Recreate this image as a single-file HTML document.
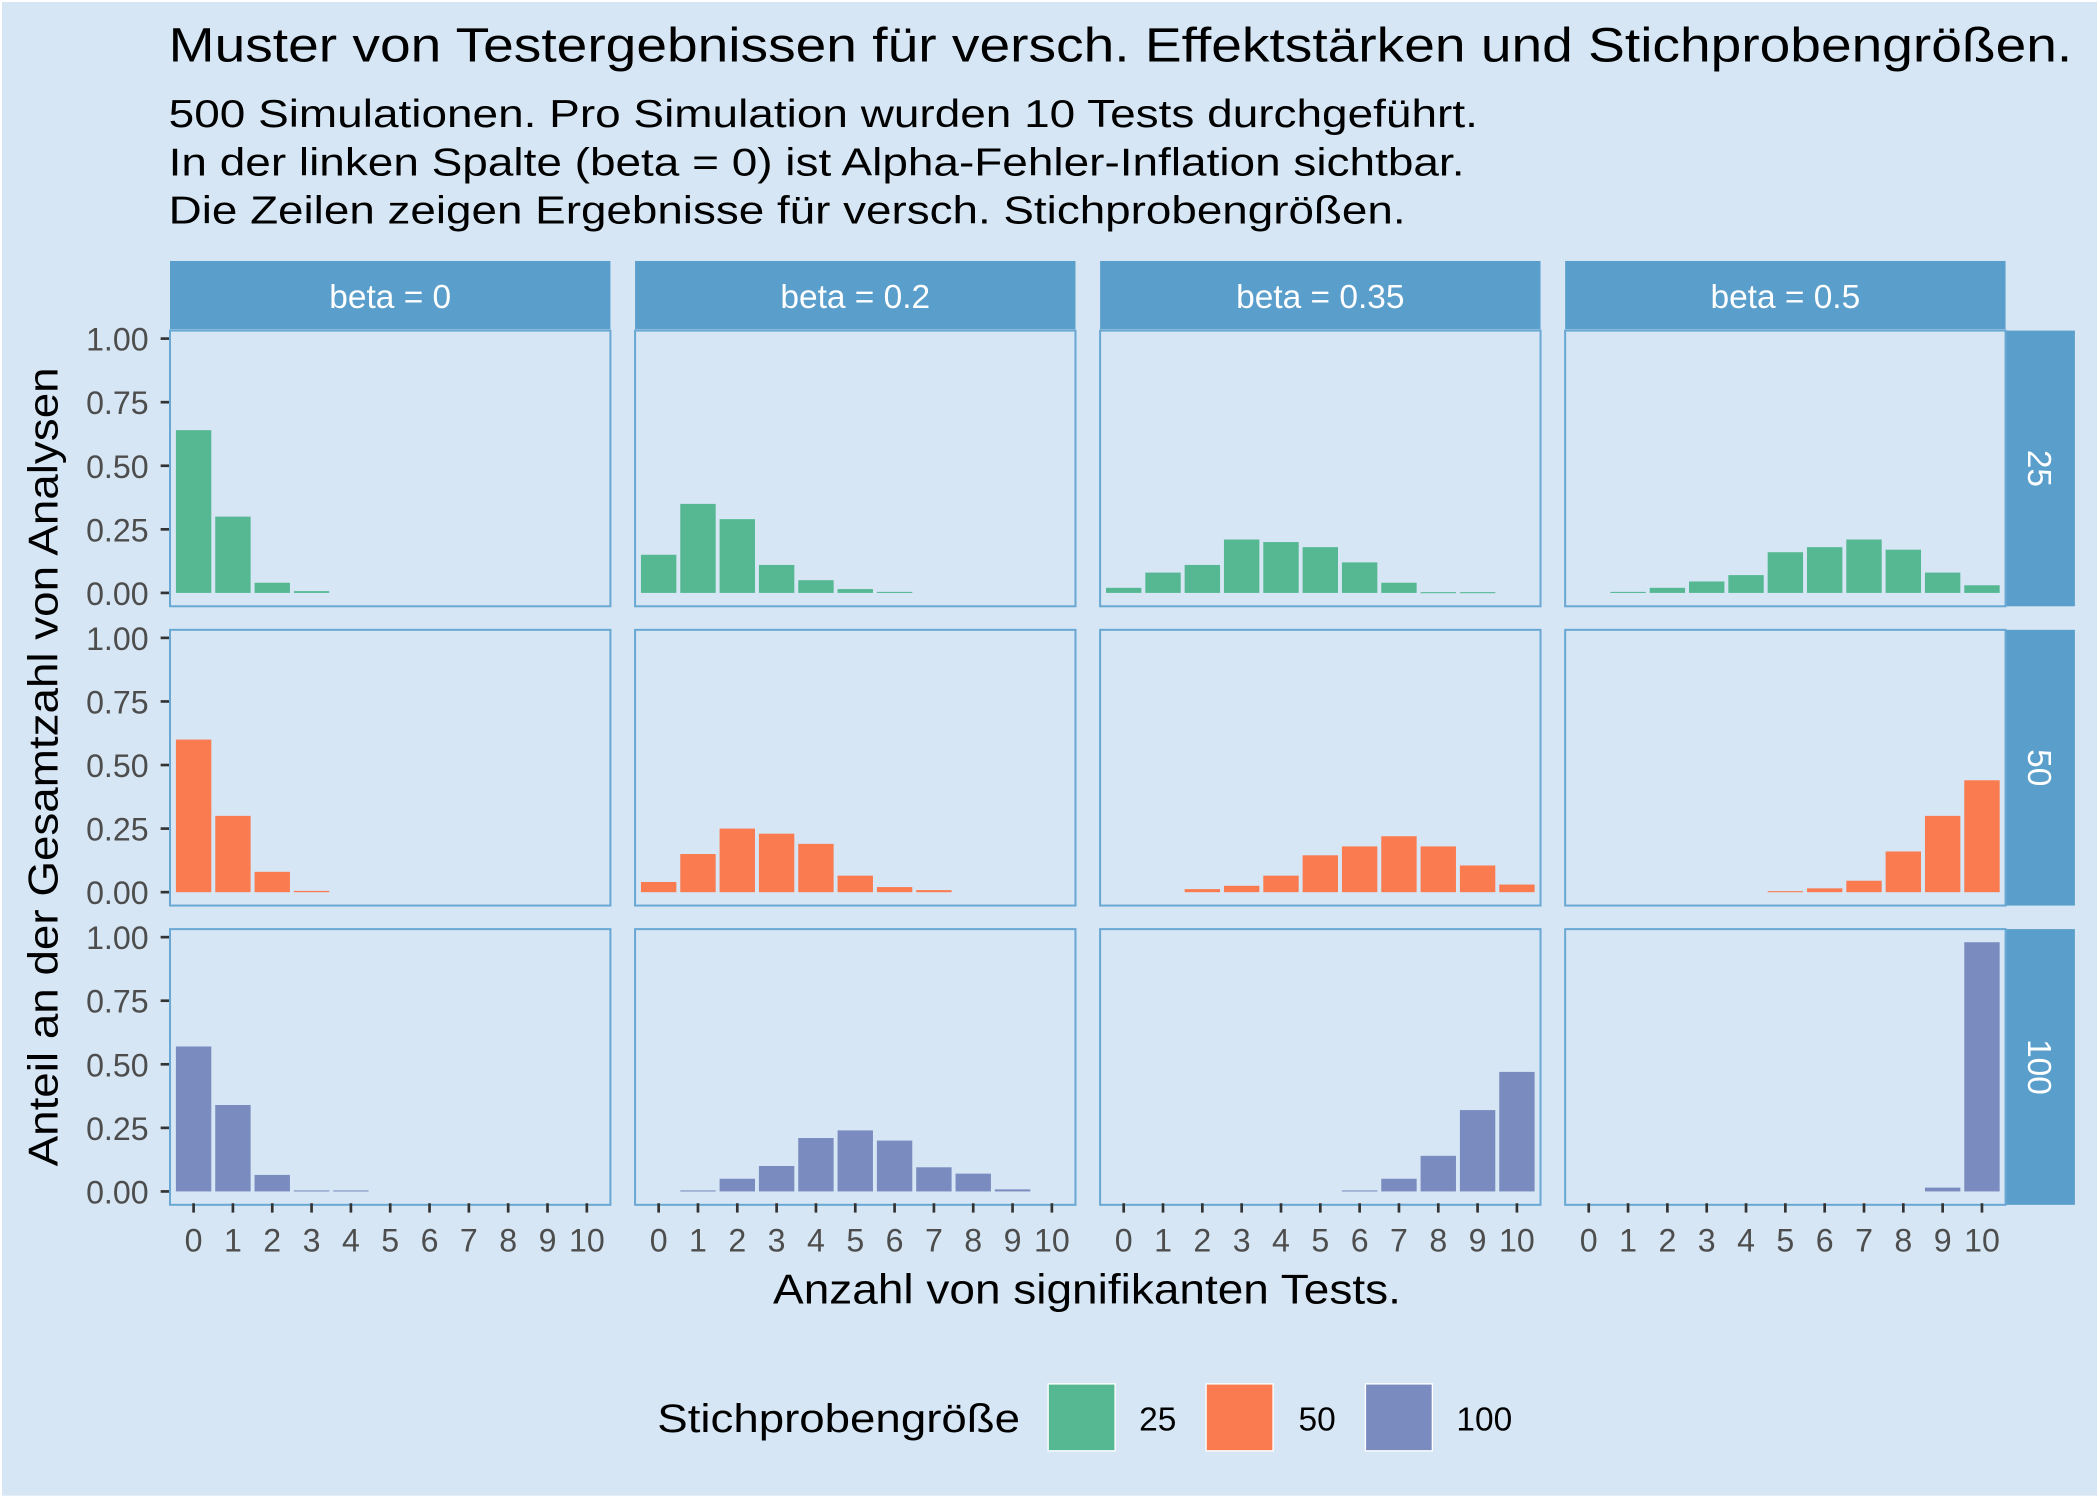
<!DOCTYPE html>
<html><head><meta charset="utf-8"><style>
html,body{margin:0;padding:0;background:#fff;}
svg{display:block;}
text{font-family:"Liberation Sans",sans-serif;}
</style></head><body>
<svg id="chart" width="2099" height="1499" viewBox="0 0 1568 1120" preserveAspectRatio="none" xmlns="http://www.w3.org/2000/svg">
<rect x="1.5" y="1.5" width="1565" height="1116" fill="#D6E6F4"/>
<text x="126" y="46" font-size="36" textLength="1422" lengthAdjust="spacingAndGlyphs" fill="#000">Muster von Testergebnissen für versch. Effektstärken und Stichprobengrößen.</text>
<text x="126" y="95" font-size="29" textLength="978" lengthAdjust="spacingAndGlyphs" fill="#000">500 Simulationen. Pro Simulation wurden 10 Tests durchgeführt.</text>
<text x="126" y="131" font-size="29" textLength="968" lengthAdjust="spacingAndGlyphs" fill="#000">In der linken Spalte (beta = 0) ist Alpha-Fehler-Inflation sichtbar.</text>
<text x="126" y="167" font-size="29" textLength="924" lengthAdjust="spacingAndGlyphs" fill="#000">Die Zeilen zeigen Ergebnisse für versch. Stichprobengrößen.</text>
<text transform="translate(43,573) rotate(-90)" text-anchor="middle" font-size="31" textLength="597" lengthAdjust="spacingAndGlyphs" fill="#000">Anteil an der Gesamtzahl von Analysen</text>
<text x="812" y="974" text-anchor="middle" font-size="31" textLength="469" lengthAdjust="spacingAndGlyphs" fill="#000">Anzahl von signifikanten Tests.</text>
<g id="panels"></g>
<g>
<text x="491" y="1070" font-size="30" textLength="271" lengthAdjust="spacingAndGlyphs" fill="#000">Stichprobengröße</text>
<rect x="783" y="1034" width="50" height="50" fill="#56B893" stroke="#fff" stroke-width="1"/>
<text x="851" y="1069" font-size="25" fill="#000">25</text>
<rect x="901" y="1034" width="50" height="50" fill="#FA7B50" stroke="#fff" stroke-width="1"/>
<text x="970" y="1069" font-size="25" fill="#000">50</text>
<rect x="1020" y="1034" width="50" height="50" fill="#7A8CBF" stroke="#fff" stroke-width="1"/>
<text x="1088" y="1069" font-size="25" fill="#000">100</text>
</g>
</svg>
<script>
const betas = ["beta = 0","beta = 0.2","beta = 0.35","beta = 0.5"];
const sizes = ["25","50","100"];
const xTicks = [0,1,2,3,4,5,6,7,8,9,10];
const yTicks = [0,0.25,0.5,0.75,1];
const yTickLabels = ["0.00","0.25","0.50","0.75","1.00"];
const n25 = [
 [0.64,0.30,0.04,0.007,0,0,0,0,0,0,0],
 [0.15,0.35,0.29,0.11,0.05,0.015,0.004,0,0,0,0],
 [0.02,0.08,0.11,0.21,0.20,0.18,0.12,0.04,0.003,0.003,0],
 [0,0.004,0.02,0.045,0.07,0.16,0.18,0.21,0.17,0.08,0.03]
];
const n50 = [
 [0.60,0.30,0.08,0.005,0,0,0,0,0,0,0],
 [0.04,0.15,0.25,0.23,0.19,0.065,0.02,0.008,0,0,0],
 [0,0,0.012,0.025,0.065,0.145,0.18,0.22,0.18,0.105,0.03],
 [0,0,0,0,0,0.004,0.015,0.045,0.16,0.30,0.44]
];
const n100 = [
 [0.57,0.34,0.065,0.004,0.004,0,0,0,0,0,0],
 [0,0.004,0.05,0.10,0.21,0.24,0.20,0.095,0.07,0.008,0],
 [0,0,0,0,0,0,0.004,0.05,0.14,0.32,0.47],
 [0,0,0,0,0,0,0,0,0,0.015,0.98]
];
const allData = [n25,n50,n100];
const colors = ["#56B893","#FA7B50","#7A8CBF"];
const NS = "http://www.w3.org/2000/svg";
const g = document.getElementById("panels");
function mk(tag, attrs, parent){const e=document.createElementNS(NS,tag);for(const k in attrs)e.setAttribute(k,attrs[k]);(parent||g).appendChild(e);return e;}
const colLeft = c => 127 + c*347.4;
const panelW = 329;
const rowTop = r => 247 + r*223.6;
const panelH = 206;
const xScale = (c,v) => colLeft(c) + (v + 0.6) / 11.2 * panelW;
const yScale = (r,v) => rowTop(r) + 196 - v*190;
const bw = 0.9/11.2*panelW;
betas.forEach((b,c)=>{
  const s = mk("rect",{x:colLeft(c),y:195,width:panelW,height:51,fill:"#5A9ECB"});
  
  
  const t = mk("text",{x:colLeft(c)+panelW/2,y:230,"text-anchor":"middle","font-size":"25",fill:"#fff"});
  t.textContent=b;
  
  
});
sizes.forEach((sz,r)=>{
  const s = mk("rect",{x:1498,y:rowTop(r),width:52,height:panelH,fill:"#5A9ECB"});
  
  
  const cy = rowTop(r)+panelH/2;
  const t = mk("text",{transform:`translate(1515,${cy}) rotate(90)`,"text-anchor":"middle","font-size":"25",fill:"#fff"});
  t.textContent=sz;
  
  
  yTicks.forEach((v,i)=>{
    const y=yScale(r,v);
    const l = mk("line",{x1:120,x2:127,y1:y,y2:y,stroke:"#333","stroke-width":"2"});
    
    
    const t2 = mk("text",{x:111,y:y+9,"text-anchor":"end","font-size":"24",fill:"#4d4d4d"});
    t2.textContent=yTickLabels[i];
    
    
  });
  betas.forEach((b,c)=>{
    const p = mk("rect",{x:colLeft(c),y:rowTop(r),width:panelW,height:panelH,fill:"#D6E6F4",stroke:"#6AA8D4","stroke-width":"1.5"});
    
    
    allData[r][c].forEach((v,i)=>{
      if(v<=0) return;
      const y0=yScale(r,0), y1=yScale(r,v);
      const bar = mk("rect",{x:xScale(c,xTicks[i])-bw/2,y:y1,width:bw,height:Math.max(y0-y1,0.8),fill:colors[r]});
      
      
    });
  });
});
betas.forEach((b,c)=>{
  xTicks.forEach(v=>{
    const x=xScale(c,v);
    const l = mk("line",{x1:x,x2:x,y1:899,y2:906,stroke:"#333","stroke-width":"2"});
    
    
    const t = mk("text",{x:x,y:935,"text-anchor":"middle","font-size":"24",fill:"#4d4d4d"});
    t.textContent=String(v);
    
    
  });
});
</script>
</body></html>
